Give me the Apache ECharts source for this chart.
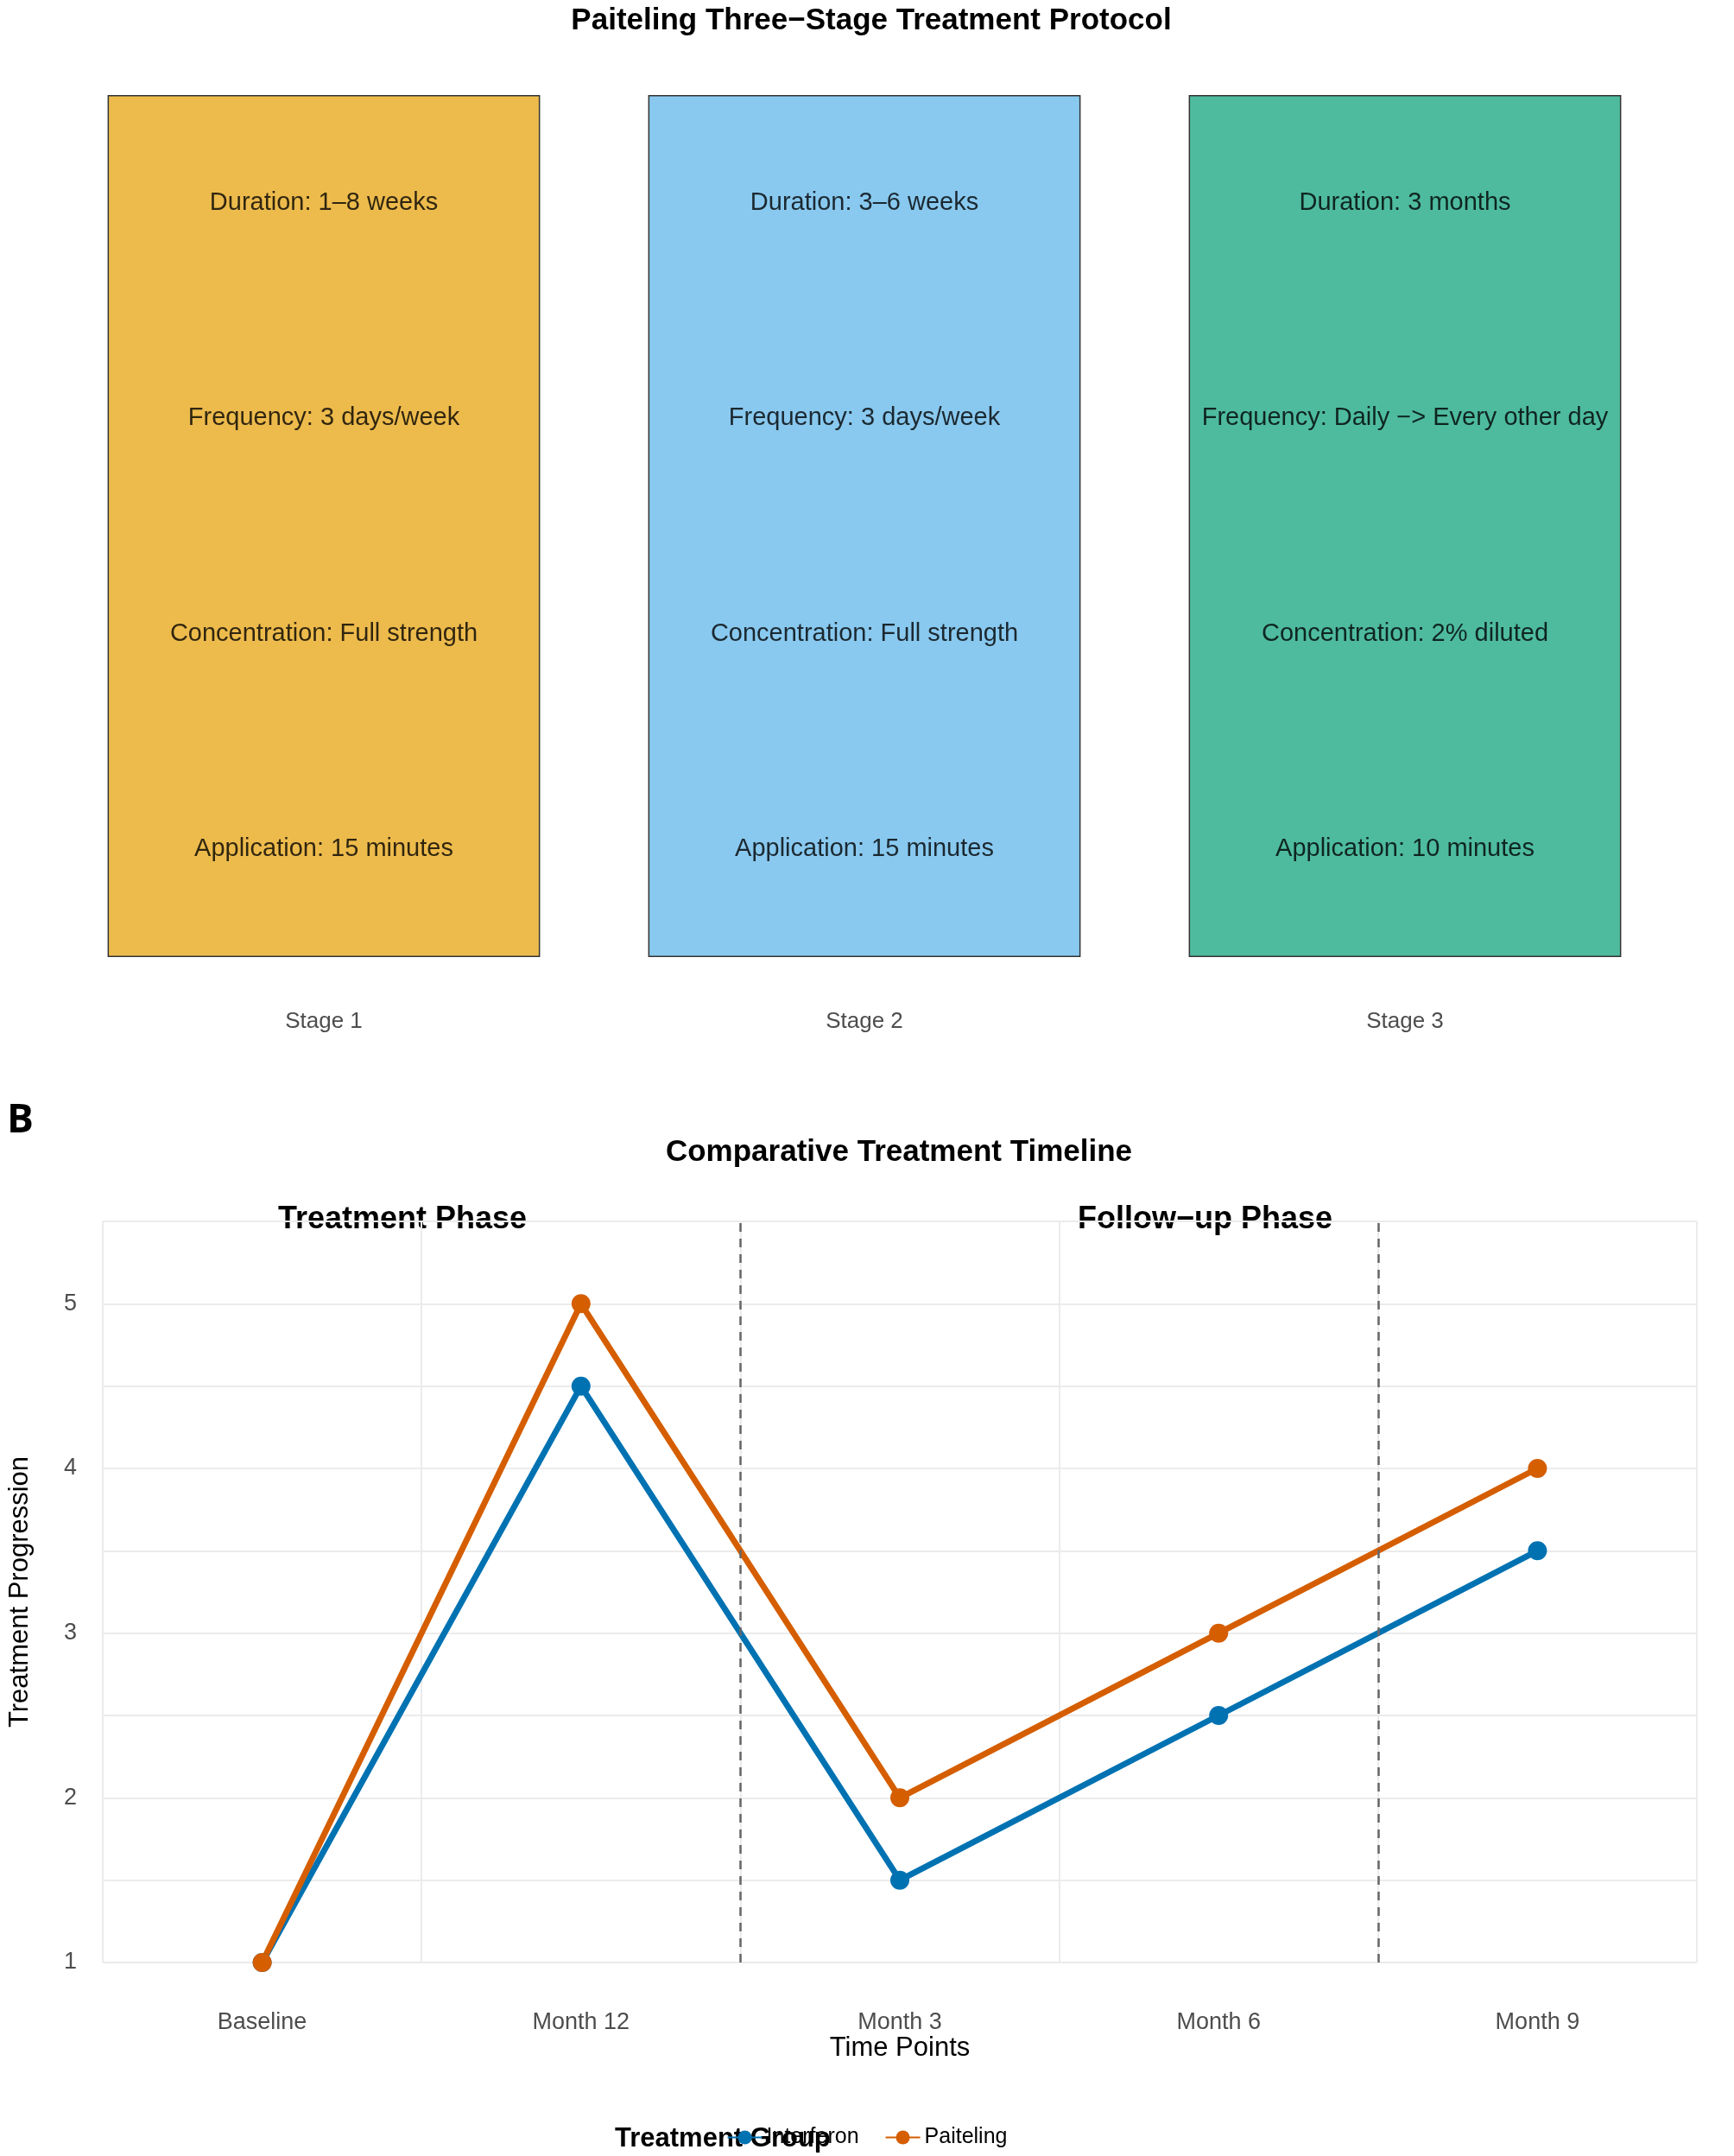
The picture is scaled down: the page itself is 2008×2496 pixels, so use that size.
<!DOCTYPE html>
<html>
<head>
<meta charset="UTF-8">
<script src="https://cdn.jsdelivr.net/npm/echarts@6/dist/echarts.min.js"></script>
<style>html,body{margin:0;padding:0;background:#fff}#c{width:2008px;height:2496px}</style>
</head>
<body>
<div id="c"></div>
<script>
var stages = ["Stage 1", "Stage 2", "Stage 3"];
var stageColors = ["#EDBB4C", "#89C9EF", "#4EBB9F"];
var durations = ["Duration: 1\u20138 weeks", "Duration: 3\u20136 weeks", "Duration: 3 months"];
var frequencies = ["Frequency: 3 days/week", "Frequency: 3 days/week", "Frequency: Daily \u2212> Every other day"];
var concentrations = ["Concentration: Full strength", "Concentration: Full strength", "Concentration: 2% diluted"];
var applications = ["Application: 15 minutes", "Application: 15 minutes", "Application: 10 minutes"];
var textRows = [durations, frequencies, concentrations, applications];
var rowY = [0.875, 0.625, 0.375, 0.125];

var timePoints = ["Baseline", "Month 12", "Month 3", "Month 6", "Month 9"];
var interferon = [1, 4.5, 1.5, 2.5, 3.5];
var paiteling = [1, 5, 2, 3, 4];
var phaseBreaks = [1.5, 3.5];

var font = "Liberation Sans, Arial, sans-serif";
var chart = echarts.init(document.getElementById('c'));

var textSeries = textRows.map(function (row, r) {
	return {
		type: 'scatter', xAxisIndex: 0, yAxisIndex: 0, symbolSize: 0, silent: true,
		data: stages.map(function (s, i) { return [s, rowY[r]]; }),
		label: { show: true, position: 'inside', color: '#000', fontSize: 29, fontFamily: font,
			formatter: function (p) { return row[p.dataIndex]; } }
	};
});

var option = {
	animation: false,
	textStyle: { fontFamily: font },
	title: [
		{ text: 'Paiteling Three\u2212Stage Treatment Protocol', left: 1004, top: 2, textAlign: 'center',
		  textStyle: { fontSize: 35, fontWeight: 'bold', color: '#000' } },
		{ text: 'Comparative Treatment Timeline', left: 1036, top: 1312, textAlign: 'center',
		  textStyle: { fontSize: 35, fontWeight: 'bold', color: '#000' } }
	],
	graphic: [
		{ type: 'text', left: 8, top: 18, style: { text: 'A', fontSize: 46, fontWeight: 'bold', fill: '#000', fontFamily: 'Open Sans, sans-serif' } },
		{ type: 'text', left: 8, top: 1275, style: { text: 'B', fontSize: 46, fontWeight: 'bold', fill: '#000', fontFamily: 'Open Sans, sans-serif' } },
		{ type: 'text', left: 322, top: 1394, style: { text: 'Treatment Phase', fontSize: 36, fontWeight: 'bold', fill: '#000', fontFamily: font } },
		{ type: 'text', left: 1248, top: 1394, style: { text: 'Follow\u2212up Phase', fontSize: 36, fontWeight: 'bold', fill: '#000', fontFamily: font } }
	],
	legend: {
		bottom: 4, left: 'center', itemWidth: 40, itemHeight: 20, itemGap: 30,
		data: ['Interferon', 'Paiteling'],
		formatter: function (n) { return n; },
		textStyle: { fontSize: 25, color: '#000' }
	},
	grid: [
		{ left: 62, right: 68, top: 110, bottom: 1388 },
		{ left: 106, right: 43, top: 1414, bottom: 224 }
	],
	xAxis: [
		{ type: 'category', gridIndex: 0, data: stages, axisLine: { show: false }, axisTick: { show: false },
		  axisLabel: { fontSize: 26, color: '#4d4d4d', margin: 62 } },
		{ type: 'category', gridIndex: 1, data: timePoints, boundaryGap: true,
		  name: 'Time Points', nameLocation: 'middle', nameGap: 60, nameTextStyle: { fontSize: 31, color: '#000' },
		  axisLine: { show: false }, axisTick: { show: false },
		  axisLabel: { fontSize: 27, color: '#4d4d4d', margin: 56 },
		  splitLine: { show: true, lineStyle: { color: '#ebebeb', width: 2 } } },
		{ type: 'value', gridIndex: 1, min: -0.5, max: 4.5, show: false }
	],
	yAxis: [
		{ type: 'value', gridIndex: 0, min: 0, max: 1, show: false },
		{ type: 'value', gridIndex: 1, min: 1, max: 5.5, interval: 0.5,
		  name: 'Treatment Progression', nameLocation: 'middle', nameGap: 80, nameTextStyle: { fontSize: 31, color: '#000' },
		  axisLine: { show: false }, axisTick: { show: false },
		  axisLabel: { fontSize: 27, color: '#4d4d4d', margin: 30,
		    formatter: function (v) { return v % 1 === 0 ? String(v) : ''; } },
		  splitLine: { show: true, lineStyle: { color: '#ebebeb', width: 2 } } }
	],
	series: [
		{ type: 'bar', xAxisIndex: 0, yAxisIndex: 0, barWidth: '80%', silent: true,
		  data: stages.map(function (s, i) {
		  	return { value: 1, itemStyle: { color: stageColors[i], borderColor: '#333', borderWidth: 1.5 } };
		  }) }
	].concat(textSeries).concat([
		{ type: 'line', xAxisIndex: 2, yAxisIndex: 1, data: [], silent: true,
		  markLine: { symbol: 'none', label: { show: false },
		    lineStyle: { color: '#666', type: [10, 8], width: 2.5 },
		    data: phaseBreaks.map(function (b) { return { xAxis: b }; }) } },
		{ name: 'Interferon', type: 'line', xAxisIndex: 1, yAxisIndex: 1, data: interferon,
		  symbol: 'circle', symbolSize: 22, color: '#0072B2', lineStyle: { width: 7 } },
		{ name: 'Paiteling', type: 'line', xAxisIndex: 1, yAxisIndex: 1, data: paiteling,
		  symbol: 'circle', symbolSize: 22, color: '#D55E00', lineStyle: { width: 7 } }
	])
};
chart.setOption(option);
chart.setOption({ graphic: [{ type: 'text', left: 712, bottom: 4, style: { text: 'Treatment Group', fontSize: 31, fill: '#000', fontFamily: font } }] });
</script>
</body>
</html>
